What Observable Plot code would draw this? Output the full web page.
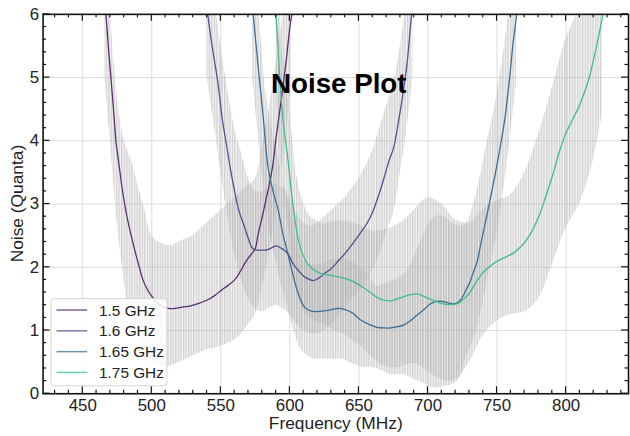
<!DOCTYPE html>
<html>
<head>
<meta charset="utf-8">
<script src="https://cdn.jsdelivr.net/npm/d3@7"></script>
<script src="https://cdn.jsdelivr.net/npm/@observablehq/plot@0.6"></script>
<style>
  html, body { margin: 0; padding: 0; background: #fff; overflow: hidden; }
  #chart { width: 630px; height: 436px; overflow: hidden; }
</style>
</head>
<body>
<div id="chart"></div>
<script>
// ---------- data ----------
const seriesNames = ["1.5 GHz", "1.6 GHz", "1.65 GHz", "1.75 GHz"];
const seriesColors = ["#5a2d6e", "#544d8f", "#3c6d93", "#3dbd88"];

const f15 = [466.8,468.5,470.4,472.8,474,476.4,478.5,481,483.5,486,488.5,491,493,496,500,504,508,512,517,522,528,534,541,546,550,555,560,564,567,570,573,575,577,580,582.5,585,587.5,590,592.5,595,597.5,600,601.5];
const v15 = [6.0,5.5,5.0,4.35,4.0,3.6,3.25,2.92,2.65,2.42,2.2,2.0,1.84,1.68,1.54,1.44,1.38,1.35,1.35,1.37,1.39,1.43,1.49,1.56,1.63,1.71,1.8,1.93,2.05,2.15,2.23,2.3,2.52,2.8,3.05,3.3,3.6,4.05,4.45,4.85,5.3,5.8,6.0];

const f16 = [540.5,543,545.5,548,551,554,557,560,563,567,570,573,577,581,584,587,590,593,596,599,602,606,610,613,617,621,625,630,635,640,644,648,652,656,660,664,668,672,675,679,682,685,688,689];
const v16 = [6.0,5.6,5.25,4.9,4.35,3.95,3.55,3.2,2.9,2.65,2.45,2.3,2.27,2.27,2.28,2.31,2.34,2.31,2.27,2.2,2.07,1.95,1.86,1.82,1.79,1.83,1.9,1.98,2.1,2.22,2.33,2.45,2.57,2.7,2.88,3.12,3.4,3.7,3.88,4.35,4.76,5.25,5.96,6.1];

const f165 = [573.4,577,580.6,584,587.8,591.4,595,598.6,602,605.8,610.6,615,620,625,630,635,640,645,651,657,663,668,673,678,682.5,687,692,697,701.6,706,710,714,718,722,725,728,730.3,733,735.5,737.6,741,744.7,748,750.8,755.6,759.2,761.6,764,764.5];
const v165 = [6.0,5.18,4.4,3.61,3.2,2.92,2.52,2.21,1.9,1.6,1.37,1.31,1.3,1.31,1.33,1.35,1.33,1.28,1.17,1.1,1.05,1.04,1.04,1.06,1.09,1.15,1.24,1.33,1.42,1.46,1.46,1.44,1.42,1.45,1.53,1.66,1.76,1.93,2.08,2.3,2.65,3.04,3.4,3.72,4.34,5.02,5.54,5.96,6.05];

const f175 = [589.5,590,592.6,595,598.6,602,605.8,609,613,618,622.5,630,637,643,648,653,658.5,663.3,668,673,678,683,688,692,697,702,707,711,716,720.8,724,727,730.3,735,740,747,754,761.6,767,771,776,780.7,785,790.3,795,799.9,805,809.5,813,816.7,819,821.5,824,826.3,826.7];
const v175 = [6.05,5.96,5.02,4.34,3.7,3.02,2.47,2.22,2.05,1.95,1.9,1.87,1.84,1.8,1.75,1.68,1.6,1.52,1.48,1.47,1.5,1.54,1.57,1.58,1.54,1.49,1.45,1.42,1.41,1.42,1.46,1.52,1.6,1.77,1.92,2.05,2.14,2.22,2.32,2.42,2.6,2.83,3.1,3.46,3.82,4.12,4.35,4.55,4.75,4.99,5.2,5.44,5.7,5.96,6.05];

// grey error envelopes (lower / upper extent of the error bars)
const bf15  = [466,470,475,480,485,490,495,500,505,510,515,520,525,530,535,540,545,550,555,560,565,570,575,580,585,590,595,601];
const blo15 = [5.0,4.0,2.7,1.8,1.2,1.0,0.75,0.55,0.45,0.42,0.45,0.5,0.55,0.6,0.65,0.7,0.72,0.75,0.8,0.85,0.95,1.1,1.25,1.7,2.2,2.9,3.7,4.8];
const bhi15 = [7.0,6.0,4.7,4.0,3.7,3.3,2.9,2.5,2.4,2.35,2.35,2.4,2.45,2.5,2.6,2.7,2.8,2.9,3.0,3.1,3.2,3.3,3.4,3.9,4.5,5.2,6.0,7.0];

const bf16  = [540,545,550,555,560,565,570,575,580,585,590,595,600,605,610,615,620,625,630,635,640,645,650,655,660,665,670,675,680,685,689];
const blo16 = [5.0,4.3,3.5,2.8,2.2,1.8,1.5,1.35,1.3,1.35,1.4,1.35,1.25,1.1,1.0,0.95,0.95,1.0,1.1,1.2,1.35,1.5,1.6,1.75,1.95,2.2,2.55,2.85,3.5,4.2,5.0];
const bhi16 = [7.0,6.3,5.5,4.8,4.2,3.8,3.4,3.2,3.2,3.25,3.3,3.25,3.1,2.85,2.7,2.65,2.7,2.8,2.9,3.0,3.1,3.25,3.4,3.6,3.85,4.2,4.55,4.9,5.5,6.3,7.0];

const bf165  = [573,578,583,588,593,598,603,608,613,618,623,628,633,638,643,648,653,658,663,668,673,678,683,688,693,698,703,708,713,718,723,728,733,738,743,748,753,758,764];
const blo165 = [5.0,3.9,2.9,2.3,1.8,1.4,1.0,0.7,0.6,0.55,0.55,0.55,0.55,0.55,0.5,0.45,0.42,0.42,0.4,0.35,0.3,0.3,0.3,0.25,0.2,0.15,0.1,0.1,0.12,0.15,0.25,0.6,0.85,1.25,1.8,2.3,2.95,3.75,4.9];
const bhi165 = [7.0,5.9,4.7,4.1,3.6,3.1,2.65,2.2,2.05,2.05,2.05,2.1,2.13,2.15,2.1,2.05,1.95,1.85,1.7,1.73,1.78,1.82,1.9,2.07,2.32,2.57,2.76,2.82,2.78,2.69,2.65,2.7,3.0,3.45,4.0,4.5,5.15,5.95,7.1];

const bf175  = [590,595,600,605,610,615,620,625,630,640,650,660,670,680,690,700,710,720,730,740,750,760,770,780,790,800,810,820,826];
const blo175 = [5.0,3.34,2.45,1.65,1.3,1.2,1.13,1.09,1.02,0.93,0.77,0.57,0.42,0.42,0.48,0.35,0.22,0.22,0.5,0.92,1.15,1.25,1.3,1.5,2.04,2.62,3.02,3.72,4.4];
const bhi175 = [7.0,5.34,4.45,3.45,3.0,2.8,2.73,2.69,2.72,2.73,2.67,2.57,2.6,2.7,2.9,3.1,3.0,2.75,2.7,2.92,3.05,3.15,3.5,4.1,4.84,5.62,6.12,6.92,7.6];

const xTicks = [450, 500, 550, 600, 650, 700, 750, 800];
const yTicks = [0, 1, 2, 3, 4, 5, 6];

// ---------- tables ----------
const curves = [[f15, v15], [f16, v16], [f165, v165], [f175, v175]];
const lineData = curves.flatMap(([f, v], i) => f.map((x, j) => ({s: seriesNames[i], x, y: v[j]})));
const bands = [[bf15, blo15, bhi15], [bf16, blo16, bhi16], [bf165, blo165, bhi165], [bf175, blo175, bhi175]];
const bandData = bands.flatMap(([f, lo, hi], i) => f.map((x, j) => ({s: seriesNames[i], x, lo: lo[j], hi: hi[j]})));

const W = 636, H = 436;
const mL = 43, mR = 2, mT = 14, mB = 39;
const font = "'Liberation Sans', Arial, Helvetica, sans-serif";

const chart = Plot.plot({
  width: W, height: H,
  marginLeft: mL, marginRight: mR, marginTop: mT, marginBottom: mB,
  style: {fontFamily: font, fontSize: "17px", background: "white", color: "#222", overflow: "hidden"},
  x: {domain: [421.3, 845.2], label: null},
  y: {domain: [0, 6], label: null},
  color: {domain: seriesNames, range: seriesColors},
  marks: [
    Plot.gridX(xTicks, {stroke: "#dcdcdc", strokeOpacity: 1, strokeWidth: 1}),
    Plot.gridY(yTicks.slice(1, -1), {stroke: "#dcdcdc", strokeOpacity: 1, strokeWidth: 1}),
    Plot.areaY(bandData, {x: "x", y1: "lo", y2: "hi", z: "s", fill: "#c4c4c4", fillOpacity: 0.2, curve: "catmull-rom", clip: true}),
    Plot.areaY(bandData, {x: "x", y1: "lo", y2: "hi", z: "s", fill: "url(#vstripe)", fillOpacity: 0.5, curve: "catmull-rom", clip: true}),
    Plot.line(lineData, {x: "x", y: "y", z: "s", stroke: "s", strokeWidth: 1.3, curve: "catmull-rom", clip: true}),
    Plot.axisX(xTicks, {anchor: "bottom", tickSize: 0, tickPadding: 5, fontSize: 17, label: null, tickFormat: "d"}),
    Plot.axisY(yTicks, {anchor: "left", tickSize: 0, tickPadding: 4, fontSize: 17, label: null, tickFormat: "d"}),
    Plot.frame({stroke: "#111", strokeWidth: 1.6})
  ]
});

document.getElementById("chart").appendChild(chart);

// ---------- decorations drawn with the plot's own scales ----------
const svg = d3.select(chart);
const sx = chart.scale("x"), sy = chart.scale("y");
const pLeft = mL, pRight = W - mR, pTop = mT, pBottom = H - mB;

const defs = svg.insert("defs", ":first-child");
defs.append("pattern").attr("id", "vstripe").attr("patternUnits", "userSpaceOnUse")
  .attr("width", 2.6).attr("height", 5)
  .append("rect").attr("width", 1.3).attr("height", 5).attr("fill", "#b0b0b0");

const tk = svg.append("g").attr("stroke", "#111").attr("stroke-width", 1.2);
const minorX = d3.range(430, 845, 10).filter(v => v % 50 !== 0);
const minorY = d3.range(0.2, 6, 0.2).filter(v => Math.abs(v - Math.round(v)) > 1e-6);
function xt(vals, len) {
  for (const v of vals) {
    const px = sx.apply(v);
    tk.append("line").attr("x1", px).attr("x2", px).attr("y1", pBottom).attr("y2", pBottom - len);
    tk.append("line").attr("x1", px).attr("x2", px).attr("y1", pTop).attr("y2", pTop + len);
  }
}
function yt(vals, len) {
  for (const v of vals) {
    const py = sy.apply(v);
    tk.append("line").attr("y1", py).attr("y2", py).attr("x1", pLeft).attr("x2", pLeft + len);
    tk.append("line").attr("y1", py).attr("y2", py).attr("x1", pRight).attr("x2", pRight - len);
  }
}
xt(xTicks, 7); xt(minorX, 3.5);
yt(yTicks, 7); yt(minorY, 3.5);

// axis titles
svg.append("text").attr("x", (pLeft + 627) / 2 + 4).attr("y", 433)
  .attr("text-anchor", "middle").attr("font-family", font).attr("font-size", 17.5).attr("fill", "#222")
  .text("Frequency (MHz)");
svg.append("text").attr("transform", `translate(23,${(pTop + pBottom) / 2}) rotate(-90)`)
  .attr("text-anchor", "middle").attr("font-family", font).attr("font-size", 17.5).attr("fill", "#222")
  .text("Noise (Quanta)");

// title inside the plot
svg.append("text").attr("x", 342).attr("y", 94)
  .attr("text-anchor", "middle").attr("font-family", font).attr("font-size", 28).attr("font-weight", "bold")
  .attr("fill", "#000").text("Noise Plot");

// legend
const lg = svg.append("g");
lg.append("rect").attr("x", 51.5).attr("y", 301.5).attr("width", 117).attr("height", 88).attr("rx", 3)
  .attr("fill", "white").attr("fill-opacity", 0.85).attr("stroke", "#d4d4d4");
seriesNames.forEach((name, i) => {
  const y = 313 + i * 21;
  lg.append("line").attr("x1", 57).attr("x2", 88).attr("y1", y).attr("y2", y)
    .attr("stroke", seriesColors[i]).attr("stroke-width", 1.5).attr("stroke-opacity", 0.75);
  lg.append("text").attr("x", 100).attr("y", y).attr("dy", "0.36em").attr("text-anchor", "start")
    .attr("font-family", font).attr("font-size", 15.5).attr("fill", "#222").text(name);
});
</script>
</body>
</html>
